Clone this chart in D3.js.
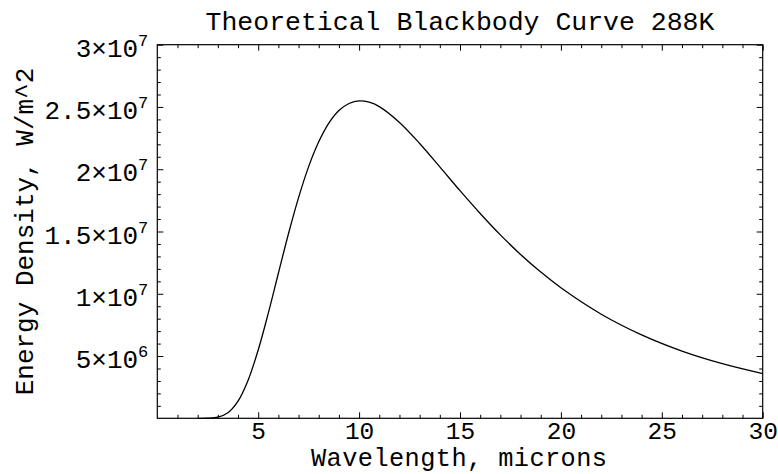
<!DOCTYPE html>
<html>
<head>
<meta charset="utf-8">
<script src="https://cdn.jsdelivr.net/npm/d3@7"></script>
<style>
  html, body { margin: 0; padding: 0; background: #fff; }
  text { font-family: "Liberation Mono", "Courier New", monospace; fill: #000; }
</style>
</head>
<body>
<svg id="chart" width="778" height="474"></svg>
<script>
// ---- data ----
const wavelengths = [2, 2.5, 3, 3.5, 4, 4.5, 5, 5.5, 6, 6.5, 7, 7.5, 8, 8.5, 9, 9.5, 10, 10.5, 11, 12, 13, 14, 15, 16, 17, 18, 19, 20, 22, 24, 26, 28, 30];
const energyDensity = [170, 8.0e3, 9.0e4, 4.5e5, 1.38e6, 3.06e6, 5.48e6, 8.44e6, 1.165e7, 1.482e7, 1.772e7, 2.021e7, 2.220e7, 2.370e7, 2.471e7, 2.528e7, 2.549e7, 2.538e7, 2.503e7, 2.376e7, 2.207e7, 2.019e7, 1.828e7, 1.645e7, 1.473e7, 1.316e7, 1.175e7, 1.048e7, 8.36e6, 6.70e6, 5.40e6, 4.39e6, 3.59e6];
const xMajorTicks = [5, 10, 15, 20, 25, 30];
const xTickLabels = ["5", "10", "15", "20", "25", "30"];
const yMajorTicks = [5e6, 1e7, 1.5e7, 2e7, 2.5e7, 3e7];
const yTickMantissa = ["5", "1", "1.5", "2", "2.5", "3"];
const yTickExponent = ["6", "7", "7", "7", "7", "7"];
const titleText = "Theoretical Blackbody Curve 288K";
const xLabelText = "Wavelength, microns";
const yLabelText = "Energy Density, W/m^2";

// ---- layout ----
const mLeft = 157.3, mRight = 762.7, mTop = 44.7, mBottom = 418.3;
const fontSize = 26;

const svg = d3.select("#chart");
const x = d3.scaleLinear().domain([0, 30]).range([mLeft, mRight]);
const y = d3.scaleLinear().domain([0, 3e7]).range([mBottom, mTop]);

const xMinor = d3.range(1, 30).filter(v => v % 5 !== 0);
const yMinor = d3.range(1, 30).filter(v => v % 5 !== 0).map(v => v * 1e6);

const major = 6, minor = 3.5;
function styleAxis(g) {
  g.select(".domain").remove();
  g.selectAll("line").attr("stroke", "#000").attr("stroke-width", 1);
}

// bottom axis: ticks inward, labels
svg.append("g").attr("transform", `translate(0,${mBottom})`)
  .call(d3.axisBottom(x).tickValues(xMinor).tickSize(-minor).tickFormat(""))
  .call(styleAxis);
const gb = svg.append("g").attr("transform", `translate(0,${mBottom})`)
  .call(d3.axisBottom(x).tickValues(xMajorTicks).tickSize(-major).tickPadding(3.2)
        .tickFormat((d, i) => xTickLabels[i]))
  .call(styleAxis);
gb.selectAll("text").attr("font-size", 24.5).attr("font-family", "Liberation Mono").attr("fill", "#000");

// top axis mirrored ticks
svg.append("g").attr("transform", `translate(0,${mTop})`)
  .call(d3.axisTop(x).tickValues(xMinor).tickSize(-minor).tickFormat(""))
  .call(styleAxis);
svg.append("g").attr("transform", `translate(0,${mTop})`)
  .call(d3.axisTop(x).tickValues(xMajorTicks).tickSize(-major).tickFormat(""))
  .call(styleAxis);

// left axis
svg.append("g").attr("transform", `translate(${mLeft},0)`)
  .call(d3.axisLeft(y).tickValues(yMinor).tickSize(-minor).tickFormat(""))
  .call(styleAxis);
svg.append("g").attr("transform", `translate(${mLeft},0)`)
  .call(d3.axisLeft(y).tickValues(yMajorTicks).tickSize(-major).tickFormat(""))
  .call(styleAxis);

// right axis mirrored
svg.append("g").attr("transform", `translate(${mRight},0)`)
  .call(d3.axisRight(y).tickValues(yMinor).tickSize(-minor).tickFormat(""))
  .call(styleAxis);
svg.append("g").attr("transform", `translate(${mRight},0)`)
  .call(d3.axisRight(y).tickValues(yMajorTicks).tickSize(-major).tickFormat(""))
  .call(styleAxis);

// y tick labels with superscript exponent
const yl = svg.append("g");
yMajorTicks.forEach((v, i) => {
  const t = yl.append("text")
    .attr("x", mLeft - 9)
    .attr("y", y(v) + 12)
    .attr("text-anchor", "end")
    .attr("font-size", fontSize);
  t.append("tspan").text(yTickMantissa[i] + "\u00D710");
  t.append("tspan").attr("dy", -11).attr("font-size", 17).text(yTickExponent[i]);
});

// frame
svg.append("rect")
  .attr("x", x(0)).attr("y", y(3e7))
  .attr("width", x(30) - x(0)).attr("height", y(0) - y(3e7))
  .attr("fill", "none").attr("stroke", "#000").attr("stroke-width", 1.2);

// curve
const pts = wavelengths.map((w, i) => [w, energyDensity[i]]);
const line = d3.line().x(d => x(d[0])).y(d => y(d[1])).curve(d3.curveCatmullRom.alpha(0.5));
svg.append("path").datum(pts)
  .attr("d", line)
  .attr("fill", "none").attr("stroke", "#000").attr("stroke-width", 1.3);

// title and axis labels
svg.append("text").attr("x", 460).attr("y", 30)
  .attr("text-anchor", "middle").attr("font-size", 26.5).text(titleText);
svg.append("text").attr("x", 459).attr("y", 466.3)
  .attr("text-anchor", "middle").attr("font-size", 25.3).attr("textLength", 296).text(xLabelText);
svg.append("text")
  .attr("transform", `translate(33,${(mTop + mBottom) / 2}) rotate(-90)`)
  .attr("text-anchor", "middle").attr("font-size", fontSize).text(yLabelText);
</script>
</body>
</html>
